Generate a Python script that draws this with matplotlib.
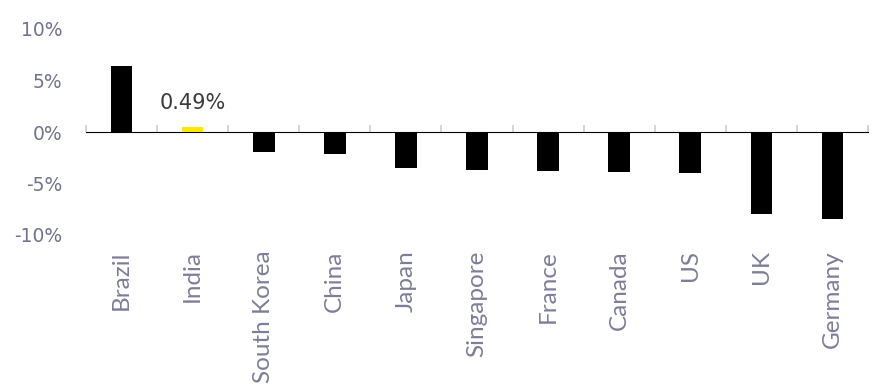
import matplotlib
matplotlib.use("Agg")
import matplotlib.pyplot as plt
import numpy as np

categories = ["Brazil", "India", "South Korea", "China", "Japan", "Singapore",
              "France", "Canada", "US", "UK", "Germany"]
values = [6.4, 0.49, -1.97, -2.1, -3.5, -3.65, -3.76, -3.91, -3.95, -7.96, -8.42]
highlight = "India"
yticks = [-10, -5, 0, 5, 10]
ytick_labels = ["-10%", "-5%", "0%", "5%", "10%"]

label_col = "#73728f"
xlabel_col = "#7e7d99"
axis_col = "#cdccd8"

fig = plt.figure(figsize=(8.72, 3.9), dpi=100)
ax = fig.add_axes([86/872, 1-235/390, 782/872, 206/390])
ax.patch.set_alpha(0)

x = np.arange(len(categories))
colors = ["#ffe600" if c == highlight else "#000000" for c in categories]
ax.bar(x, values, width=0.305, color=colors, zorder=3)

hi = categories.index(highlight)
ax.annotate(f"{values[hi]:.2f}%", (x[hi], values[hi]), xytext=(0, 13),
            textcoords="offset points", ha="center", va="baseline",
            fontsize=15, color="#3a3a3a", family="DejaVu Sans")

ax.set_xlim(-0.5, len(categories) - 0.5)
ax.set_ylim(-10, 10)
ax.set_yticks(yticks)
ax.set_yticklabels(ytick_labels)
ax.tick_params(axis="y", length=0, pad=17, labelsize=13.5, labelcolor=label_col)

ax.set_xticks(x)
ax.set_xticklabels(categories, rotation=90, family="Lato", fontsize=17.5,
                   color=xlabel_col, fontweight="normal")
ax.tick_params(axis="x", length=0, pad=11)

for s in ax.spines.values():
    s.set_visible(False)

sec = ax.secondary_xaxis(0.5)
sec.set_xticks(np.arange(len(categories) + 1) - 0.5)
sec.set_xticklabels([])
sec.tick_params(axis="x", length=5, width=1.2, color=axis_col, direction="out")
sec.spines["bottom"].set_color(axis_col)
sec.spines["bottom"].set_linewidth(1.5)

fig.savefig("out.png", dpi=100)
